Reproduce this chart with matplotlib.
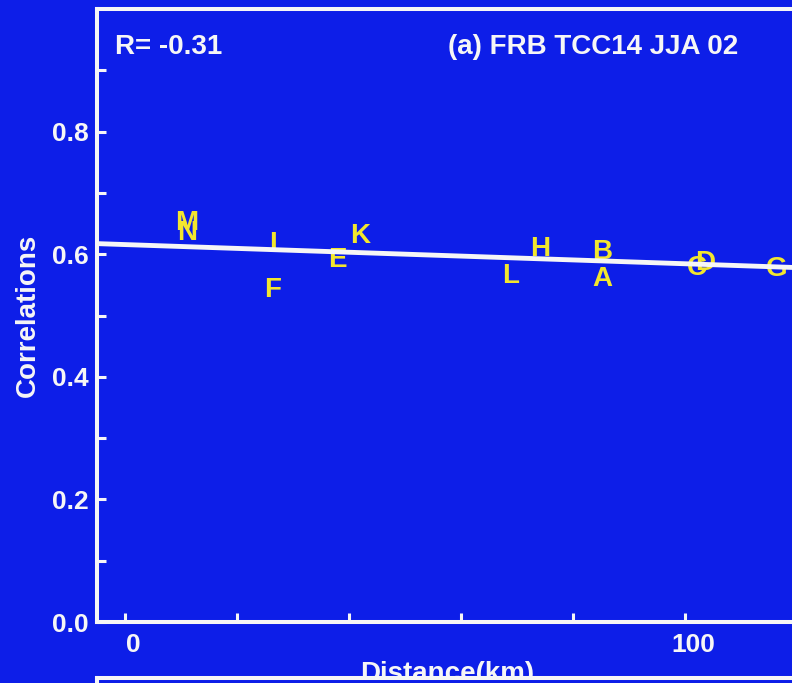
import numpy as np
from matplotlib import pyplot as plt
from matplotlib import transforms

# station letters with distance (km) and correlation
stations = ['A', 'B', 'C', 'D', 'E', 'F', 'G', 'H', 'I', 'K', 'L', 'M', 'N']
distance = [85.2, 85.2, 102.1, 103.6, 37.9, 26.3, 116.4, 74.1, 26.4, 42.0, 68.8, 11.1, 11.1]
correlation = [0.565, 0.609, 0.583, 0.590, 0.596, 0.546, 0.580, 0.614, 0.621, 0.635, 0.569, 0.655, 0.639]

# regression line as drawn in the panel
fit_intercept = 0.6157
fit_slope = -0.000313

x_ticks = [0, 20, 40, 60, 80, 100, 120]
x_tick_labels = ['0', '', '', '', '', '100', '']
y_ticks = [0.0, 0.1, 0.2, 0.3, 0.4, 0.5, 0.6, 0.7, 0.8, 0.9]
y_tick_labels = ['0.0', '', '0.2', '', '0.4', '', '0.6', '', '0.8', '']

r_text = 'R= -0.31'
panel_title = '(a) FRB TCC14 JJA 02'

BLUE = '#0d1ee8'
YELLOW = '#f2e62e'
WHITE = '#f6f6f6'
FONT = 'Liberation Sans'

plt.rcParams['font.family'] = FONT
plt.rcParams['font.weight'] = 'bold'

W, H = 792, 683
fig = plt.figure(figsize=(W / 100, H / 100), dpi=100, facecolor=BLUE)

# panel (a); right edge sits just outside the picture
ax = fig.add_axes([97 / W, 1 - 622 / H, 700 / W, 613 / H], facecolor=BLUE)
ax.set_xlim(-5, 120)
ax.set_ylim(0, 1.0)

for side in ['left', 'bottom', 'top']:
    ax.spines[side].set_color(WHITE)
    ax.spines[side].set_linewidth(2.9)
ax.spines['right'].set_visible(False)

ax.set_xticks(x_ticks)
ax.set_xticklabels(x_tick_labels)
ax.set_yticks(y_ticks)
ax.set_yticklabels(y_tick_labels)
ax.tick_params(direction='in', length=6.5, width=2.2, color=WHITE,
               labelcolor=WHITE, labelsize=19)
ax.tick_params(axis='x', pad=8)
ax.tick_params(axis='y', pad=6)
shift = transforms.ScaledTranslation(8 / 100, 0, fig.dpi_scale_trans)
for lab in ax.get_xticklabels():
    lab.set_transform(lab.get_transform() + shift)

ax.set_ylabel('Correlations', color=WHITE, fontsize=20, fontweight='bold')
ax.yaxis.set_label_coords(-69 / 700, 0.5)
ax.yaxis.label.set_verticalalignment('center')
ax.set_xlabel('Distance(km)', color=WHITE, fontsize=20, fontweight='bold')
ax.xaxis.set_label_coords(0.5, -0.063)

# letters
for name, d, c in zip(stations, distance, correlation):
    ax.text(d, c, name, color=YELLOW, fontsize=20, fontweight='bold',
            ha='center', va='center_baseline', zorder=3)

# fitted line
xl = np.array(ax.get_xlim())
ax.plot(xl, fit_intercept + fit_slope * xl, color=WHITE, lw=3.5, zorder=4)

ax.text(18 / 700, 0.938, r_text, transform=ax.transAxes, color=WHITE,
        fontsize=20, fontweight='bold', ha='left', va='center')
ax.text(351 / 700, 0.938, panel_title, transform=ax.transAxes, color=WHITE,
        fontsize=20, fontweight='bold', ha='left', va='center')

# top of the next panel, cut off by the picture edge
ax2 = fig.add_axes([97 / W, -0.5, 700 / W, 0.5 + (H - 678) / H], facecolor=BLUE)
ax2.set_zorder(5)
for side in ['left', 'top']:
    ax2.spines[side].set_color(WHITE)
    ax2.spines[side].set_linewidth(2.9)
for side in ['right', 'bottom']:
    ax2.spines[side].set_visible(False)
ax2.set_xticks([])
ax2.set_yticks([])

fig.savefig('out.png', dpi=100, facecolor=BLUE)
